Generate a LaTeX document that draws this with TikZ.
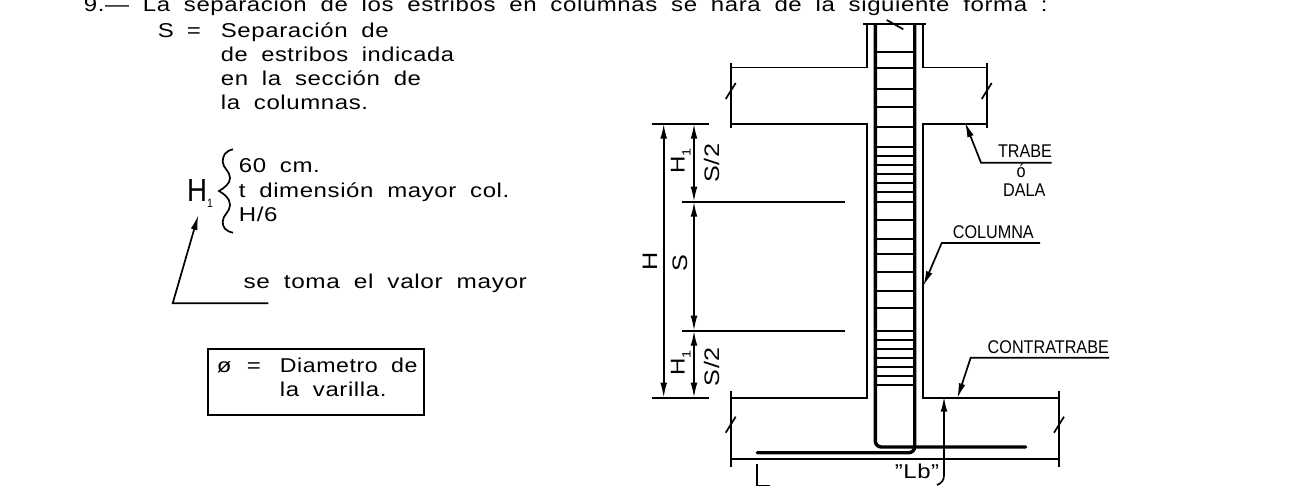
\documentclass[tikz,border=0pt]{standalone}
\usepackage{fontspec}
\usepackage{tikz}
\usetikzlibrary{arrows.meta}
\setmainfont{Liberation Sans}[FakeStretch=1.2,LetterSpace=3,WordSpace=1.9]
\newfontfamily\labelfont{Liberation Sans}[FakeStretch=0.88]
\newcommand{\hone}[1]{{\fontsize{#1}{#1}\selectfont H}\raisebox{-3pt}{\fontsize{6}{6}\selectfont 1}}

\begin{document}
\begin{tikzpicture}[x=0.5pt,y=-0.5pt,line width=0.85pt,
	txt/.style={anchor=base west,inner sep=0pt,font=\fontsize{10}{12}\selectfont},
	lbl/.style={inner sep=0pt,font=\labelfont\fontsize{9.2}{11}\selectfont},
	dimtxt/.style={inner sep=0pt,rotate=90,font=\fontsize{10.5}{12}\selectfont},
	bar/.style={line width=1.7pt,line cap=round,rounded corners=3pt},
	dimline/.style={{Latex[length=7.5pt,width=3.4pt]}-{Latex[length=7.5pt,width=3.4pt]}},
	lead/.style={-{Latex[length=7.5pt,width=3.4pt]}}]
	\useasboundingbox (0,0) rectangle (1312,486);
	\clip (0,0) rectangle (1312,486);

	% notes
	\node[txt] (title) at (83,12) {9.— La separación de los estribos en columnas se hará de la siguiente forma :};
	\node[txt] (sep) at (157,37.3) {S};
	\node[txt] at (186,37.3) {=};
	\node[txt] at (220,37.3) {Separación de};
	\node[txt,xscale=0.985] at (220,61.7) {de estribos indicada};
	\node[txt] at (220,86) {en la sección de};
	\node[txt] at (220,110) {la columnas.};

	\node[inner sep=0pt,xscale=0.72] (hbig) at (200,193) {\hone{16}};
	\draw (233,149.3) .. controls (225,151) and (222.7,156) .. (222.7,161.7) .. controls (222.7,168) and (230,171) .. (230,178) .. controls (230,184) and (224,188) .. (219,191) .. controls (224,194) and (230,198) .. (230,205) .. controls (230,212) and (222.7,215) .. (222.7,221.7) .. controls (222.7,227) and (225,231) .. (233,232.7);
	\node[txt] at (238,172.7) {60 cm.};
	\node[txt] at (238,197.7) {t dimensión mayor col.};
	\node[txt] at (238,221.7) {H/6};
	\coordinate (hfoot) at (172.7,303.3);
	\coordinate (hend) at (268.3,303.3);
	\coordinate (htip) at (198.3,215);
	\draw[lead] (hend) -- (hfoot) -- (htip);
	\node[txt,xscale=1.015] at (242.7,288.3) {se toma el valor mayor};

	\draw (208.3,349) rectangle (424.3,415);
	\node[txt] at (216,372.7) {ø};
	\node[txt] at (246,372.7) {=};
	\node[txt,xscale=0.965] at (279,372.7) {Diametro de};
	\node[txt] at (279,396.7) {la varilla.};

	% column and beams
	\draw (863,24) -- (926,24);
	\draw (867,24) -- (867,67.5) -- (730.7,67.5);
	\draw (923,24) -- (923,67.5) -- (986.7,67.5);
	\draw (730.7,62.7) -- (730.7,127.7);
	\draw (986.7,62.7) -- (986.7,127.7);
	\draw (730.7,123.7) -- (867,123.7) -- (867,397.7) -- (730.7,397.7);
	\draw (986.7,123.7) -- (923,123.7) -- (923,397.7) -- (1059,397.7);
	\draw (730.7,390.7) -- (730.7,466.7);
	\draw (1059,390.7) -- (1059,466.7);
	\draw (730.7,459) -- (1059,459);
	\foreach \x/\y in {730.7/91,986.7/91,730.7/424.7,1059/424.7} {
		\draw (\x-5,\y+8) -- (\x+5,\y-8);
	}
	\draw (886.7,20) -- (903.3,29.3);

	% rebar
	\foreach \y in {52.3,67.7,89,107.3,126.7,146.7,155.7,164.7,174,183.3,192.3,201.7,220,239,254,272.3,290.7,308.3,330.7,340,348.7,358,367,376,385} {
		\draw (875.3,\y) -- (914.7,\y);
	}
	\draw[bar] (875.3,25) -- (875.3,447) -- (1025.7,447);
	\draw[bar] (914.7,25) -- (914.7,452.7) -- (757.3,452.7);

	% dimensions
	\draw (651.7,123.7) -- (708.7,123.7);
	\draw (651.7,397.7) -- (708.7,397.7);
	\draw (682.3,201.7) -- (844.7,201.7);
	\draw (682.3,330.7) -- (844.7,330.7);
	\draw[dimline] (663.7,123.7) -- (663.7,397.7);
	\draw[dimline] (694,123.7) -- (694,201.7);
	\draw[dimline] (694,201.7) -- (694,330.7);
	\draw[dimline] (694,330.7) -- (694,397.7);
	\node[dimtxt] (dimh) at (650,261) {H};
	\node[dimtxt] (dims) at (680,263) {S};
	\node[dimtxt] at (680.7,161) {\hone{10}};
	\node[dimtxt] at (711.7,163) {S/2};
	\node[dimtxt] at (680.7,363) {\hone{10}};
	\node[dimtxt] at (711.7,366.7) {S/2};

	% leaders
	\node[lbl] (trabe) at (1025,150.7) {TRABE};
	\node[lbl] (o) at (1021,171) {ó};
	\node[lbl] (dala) at (1024.3,190) {DALA};
	\coordinate (trabeend) at (1051.7,162.7);
	\coordinate (trabeknee) at (981,162.7);
	\coordinate (trabetip) at (965,122.3);
	\draw[lead] (trabeend) -- (trabeknee) -- (trabetip);
	\node[lbl] (columna) at (993.3,231.7) {COLUMNA};
	\coordinate (colend) at (1040,243);
	\coordinate (colknee) at (941.7,243);
	\coordinate (coltip) at (923.3,286);
	\draw[lead] (colend) -- (colknee) -- (coltip);
	\node[lbl] (contra) at (1048.3,346.7) {CONTRATRABE};
	\coordinate (contraend) at (1109,357.7);
	\coordinate (contraknee) at (970.7,357.7);
	\coordinate (contratip) at (957.3,398.3);
	\draw[lead] (contraend) -- (contraknee) -- (contratip);

	% hook length
	\node[txt,anchor=center] (lb) at (917,471) {”Lb”};
	\draw[lead] (937,485) .. controls (942,483) and (944,480) .. (944,475) -- (944,396.7);
	\draw (757.3,464.3) -- (757.3,485.7) -- (770,485.7);
\end{tikzpicture}
\end{document}
